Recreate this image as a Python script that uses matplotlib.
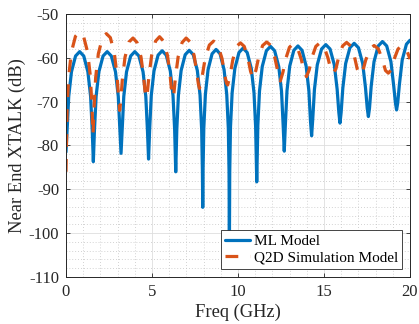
"""Near end crosstalk: ML model vs Q2D simulation."""
import matplotlib
matplotlib.use("Agg")
import matplotlib.pyplot as plt
from matplotlib.ticker import MultipleLocator

# values (GHz, dB)
ml_freq = [
    0.00, 0.064, 0.159, 0.318, 0.556, 0.795, 1.034, 1.272, 1.431, 1.526,
    1.59, 1.654, 1.751, 1.912, 2.154, 2.395, 2.637, 2.878, 3.039, 3.136,
    3.20, 3.264, 3.36, 3.52, 3.76, 4.00, 4.24, 4.48, 4.64, 4.736,
    4.80, 4.863, 4.958, 5.116, 5.353, 5.59, 5.827, 6.064, 6.222, 6.317,
    6.38, 6.443, 6.537, 6.694, 6.93, 7.165, 7.40, 7.636, 7.793, 7.887, 7.93,
    7.95, 7.97, 8.012, 8.105, 8.26, 8.493, 8.725, 8.958, 9.19, 9.345, 9.438, 9.48,
    9.50, 9.52, 9.564, 9.659, 9.818, 10.057, 10.295, 10.534, 10.772, 10.931, 11.026,
    11.09, 11.154, 11.25, 11.41, 11.65, 11.89, 12.13, 12.37, 12.53, 12.626,
    12.69, 12.754, 12.849, 13.008, 13.247, 13.485, 13.724, 13.962, 14.121, 14.216,
    14.28, 14.346, 14.445, 14.61, 14.858, 15.105, 15.353, 15.60, 15.765, 15.864,
    15.93, 15.996, 16.095, 16.26, 16.508, 16.755, 17.003, 17.25, 17.415, 17.514,
    17.58, 17.646, 17.744, 17.908, 18.154, 18.40, 18.646, 18.892, 19.056, 19.154,
    19.22, 19.286, 19.384, 19.548, 19.794, 20.0,
]
ml_db = [
    -81.5, -76.6, -68.8, -63.2, -59.6, -58.6, -59.6, -63.2, -68.8, -76.6,
    -83.7, -76.6, -68.8, -63.2, -59.6, -58.6, -59.6, -63.2, -68.8, -76.6,
    -81.8, -76.6, -68.8, -63.2, -59.6, -58.6, -59.6, -63.2, -68.8, -76.6,
    -83.1, -76.4, -68.6, -63.0, -59.4, -58.4, -59.4, -63.0, -68.6, -76.4,
    -86.0, -76.3, -68.5, -62.9, -59.3, -58.3, -59.3, -62.9, -68.5, -76.3, -85.5,
    -94.1, -85.5, -76.1, -68.3, -62.7, -59.1, -58.1, -59.1, -62.7, -68.3, -76.1, -86.0,
    -104.0, -86.0, -75.8, -68.0, -62.4, -58.8, -57.8, -58.8, -62.4, -68.0, -75.8,
    -88.3, -75.4, -67.6, -62.0, -58.4, -57.4, -58.4, -62.0, -67.6, -75.4,
    -81.3, -75.3, -67.5, -61.9, -58.3, -57.3, -58.3, -61.9, -67.5, -74.5,
    -77.8, -74.0, -67.2, -61.6, -58.0, -57.0, -58.0, -61.6, -67.2, -72.5,
    -74.9, -72.5, -66.9, -61.3, -57.7, -56.7, -57.7, -61.3, -66.9, -71.5,
    -73.4, -71.5, -66.5, -60.9, -57.3, -56.3, -57.3, -60.9, -66.5, -70.3,
    -71.9, -70.3, -66.1, -60.5, -56.9, -56.0,
]

q2d_freq = [
    0.00, 0.063, 0.157, 0.314, 0.55, 0.785, 1.02, 1.256, 1.413, 1.507,
    1.57, 1.632, 1.725, 1.88, 2.113, 2.345, 2.578, 2.81, 2.965, 3.058,
    3.12, 3.182, 3.275, 3.43, 3.663, 3.895, 4.128, 4.36, 4.515, 4.608,
    4.67, 4.732, 4.824, 4.978, 5.209, 5.44, 5.671, 5.902, 6.056, 6.148,
    6.21, 6.272, 6.365, 6.52, 6.753, 6.985, 7.218, 7.45, 7.605, 7.698,
    7.76, 7.924, 8.088, 8.334, 8.58, 8.826, 9.072, 9.236, 9.334,
    9.40, 9.548, 9.696, 9.918, 10.14, 10.362, 10.584, 10.732,
    10.88, 11.038, 11.196, 11.433, 11.67, 11.907, 12.144, 12.302,
    12.46, 12.612, 12.764, 12.992, 13.22, 13.448, 13.676, 13.828,
    13.98, 14.136, 14.292, 14.526, 14.76, 14.994, 15.228, 15.384,
    15.54, 15.695, 15.85, 16.083, 16.315, 16.548, 16.78, 16.935,
    17.09, 17.255, 17.42, 17.668, 17.915, 18.163, 18.41, 18.575,
    18.74, 18.901, 19.062, 19.304, 19.545, 19.787, 20.0,
]
q2d_db = [
    -86.0, -71.9, -64.3, -58.7, -55.1, -54.1, -55.1, -58.7, -64.1, -70.9,
    -77.5, -71.3, -64.5, -59.1, -55.5, -54.5, -55.4, -58.9, -64.0, -69.0,
    -72.0, -70.0, -65.0, -59.9, -56.4, -55.5, -56.5, -59.8, -64.4, -68.2,
    -69.2, -67.9, -64.1, -59.5, -56.2, -55.2, -56.2, -59.5, -64.1, -67.9,
    -69.0, -68.2, -64.4, -59.8, -56.5, -55.5, -56.4, -59.5, -63.4, -66.0,
    -67.0, -64.1, -60.2, -57.1, -56.2, -57.1, -60.2, -64.1, -65.8,
    -66.2, -63.9, -60.5, -57.4, -56.6, -57.4, -60.2, -63.1,
    -64.8, -62.9, -60.0, -57.2, -56.4, -57.2, -60.0, -62.9,
    -65.3, -63.3, -60.4, -57.6, -56.8, -57.6, -60.3, -62.9,
    -64.3, -62.8, -60.0, -57.4, -56.6, -57.4, -60.0, -62.5,
    -63.5, -62.5, -59.9, -57.3, -56.5, -57.3, -59.9, -62.6,
    -63.9, -63.1, -60.6, -58.0, -57.2, -58.0, -60.6, -62.9,
    -63.5, -62.8, -60.5, -58.0, -57.2, -58.0, -60.3,
]

x_ticks = [0, 5, 10, 15, 20]
y_ticks = [-110, -100, -90, -80, -70, -60, -50]

plt.rcParams['font.family'] = ['Liberation Serif', 'DejaVu Serif']
plt.rcParams['axes.unicode_minus'] = False

AX_COLOR = '#262626'

fig = plt.figure(figsize=(4.19, 3.24), dpi=100)
ax = fig.add_axes([0.1575, 0.145, 0.821, 0.812])

ax.plot(ml_freq, ml_db, color='#0072BD', lw=2.3, label='ML Model',
        solid_joinstyle='round', solid_capstyle='round')
line_q2d, = ax.plot(q2d_freq, q2d_db, color='#D95319', lw=2.3,
                    label='Q2D Simulation Model', linestyle='--')
line_q2d.set_dashes((4, 3.8))

ax.set_xlim(0, 20)
ax.set_ylim(-110, -50)
ax.set_xticks(x_ticks)
ax.set_yticks(y_ticks)
ax.xaxis.set_minor_locator(MultipleLocator(1))
ax.yaxis.set_minor_locator(MultipleLocator(2))

ax.grid(which='major', color='#dedede', lw=0.6, linestyle='-')
ax.grid(which='minor', color='#c4c4c4', lw=0.6, linestyle=(0, (1, 2.5)))
ax.set_axisbelow(True)

ax.tick_params(which='major', direction='in', length=3, width=0.6,
               top=True, right=True, labelsize=12, colors=AX_COLOR, pad=5)
ax.tick_params(which='minor', length=0)
for spine in ax.spines.values():
    spine.set_color(AX_COLOR)
    spine.set_linewidth(0.7)

ax.set_xlabel('Freq (GHz)', fontsize=13.3, color=AX_COLOR, labelpad=3)
ax.set_ylabel('Near End XTALK (dB)', fontsize=13.3, color=AX_COLOR, labelpad=2)

leg = ax.legend(loc='lower right', fontsize=11, fancybox=False,
                framealpha=1, edgecolor=AX_COLOR, borderpad=0.3,
                labelspacing=0.2, handlelength=1.6, handletextpad=0.25,
                borderaxespad=0.5)
leg.get_frame().set_linewidth(0.6)

fig.savefig('out.png', dpi=100)
